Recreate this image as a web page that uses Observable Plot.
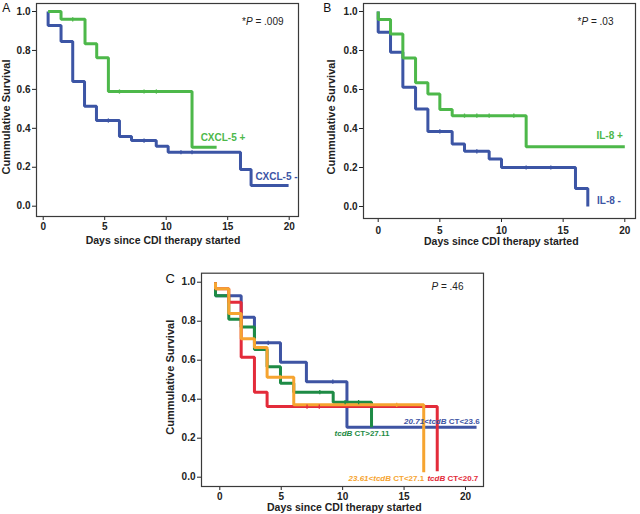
<!DOCTYPE html>
<html>
<head>
<meta charset="utf-8">
<script src="https://cdn.jsdelivr.net/npm/d3@7"></script>
<script src="https://cdn.jsdelivr.net/npm/@observablehq/plot@0.6"></script>
<style>
  html, body { margin: 0; padding: 0; background: #fff; }
  #wrap { position: relative; width: 640px; height: 514px; background: #fff; overflow: hidden; }
  #wrap > div { position: absolute; }
</style>
</head>
<body>
<div id="wrap">
  <div id="pa" style="left:0px;top:0px;"></div>
  <div id="pb" style="left:320px;top:0px;"></div>
  <div id="pc" style="left:150px;top:250px;"></div>
</div>
<script>
// ---------------- DATA ----------------
// Panel A: CXCL-5
const aPosDays = [0.4, 1.45, 3.4, 4.35, 5.3, 12.1, 14.1];
const aPosSurv = [1.0, 0.96, 0.835, 0.762, 0.589, 0.303, 0.303];
const aNegDays = [0.4, 0.4, 1.45, 2.4, 3.36, 4.33, 6.2, 7.18, 9.19, 10.16, 16.04, 16.9, 19.95];
const aNegSurv = [1.0, 0.928, 0.846, 0.64, 0.514, 0.44, 0.358, 0.337, 0.308, 0.277, 0.188, 0.106, 0.106];
const aPosCensDays = [2.4, 6.2, 8.2, 9.2];
const aPosCensSurv = [0.96, 0.589, 0.589, 0.589];
const aNegCensDays = [5.3, 8.2, 11.2, 12.1];
const aNegCensSurv = [0.44, 0.337, 0.277, 0.277];
const aLabels = ["CXCL-5 +", "CXCL-5 -"];
const aLabelDays = [12.8, 17.25];
const aLabelSurv = [0.353, 0.149];
const aPText = "*P = .009";

// Panel B: IL-8
const bPosDays = [0, 0, 1.0, 2.0, 3.03, 4.03, 5.0, 6.0, 12.0, 20.0];
const bPosSurv = [1.0, 0.959, 0.885, 0.762, 0.634, 0.577, 0.497, 0.466, 0.307, 0.307];
const bNegDays = [0, 0, 1.0, 2.0, 3.03, 4.03, 6.0, 7.0, 9.0, 10.0, 16.0, 17.0];
const bNegSurv = [1.0, 0.894, 0.791, 0.611, 0.5, 0.385, 0.32, 0.283, 0.243, 0.2, 0.092, 0.0];
const bPosCensDays = [7, 8, 9, 11];
const bPosCensSurv = [0.466, 0.466, 0.466, 0.466];
const bNegCensDays = [5, 8, 12, 14];
const bNegCensSurv = [0.385, 0.283, 0.2, 0.2];
const bLabels = ["IL-8 +", "IL-8 -"];
const bLabelDays = [17.7, 17.75];
const bLabelSurv = [0.364, 0.027];
const bPText = "*P = .03";

// Panel C: tcdB CT groups
const cBlueDays = [-0.35, -0.35, 1.74, 2.82, 4.94, 7.05, 10.35, 20.9];
const cBlueSurv = [1.0, 0.93, 0.82, 0.689, 0.59, 0.49, 0.256, 0.256];
const cGreenDays = [-0.35, -0.35, 0.73, 1.74, 2.82, 3.85, 4.94, 6.02, 9.23, 12.35];
const cGreenSurv = [1.0, 0.93, 0.81, 0.77, 0.655, 0.567, 0.482, 0.436, 0.385, 0.256];
const cRedDays = [-0.35, -0.35, 0.73, 1.74, 2.82, 3.85, 17.7];
const cRedSurv = [1.0, 0.966, 0.897, 0.615, 0.436, 0.362, 0.03];
const cOrangeDays = [-0.35, -0.35, 0.73, 1.74, 2.82, 3.85, 6.02, 16.6];
const cOrangeSurv = [1.0, 0.966, 0.84, 0.71, 0.665, 0.513, 0.371, 0.025];
const cBlueCensDays = [3.94, 9.2];
const cBlueCensSurv = [0.689, 0.49];
const cGreenCensDays = [8.14, 10.2, 11.3];
const cGreenCensSurv = [0.436, 0.385, 0.385];
const cRedCensDays = [7.1, 8.1];
const cRedCensSurv = [0.362, 0.362];
const cOrangeCensDays = [4.9, 14.4];
const cOrangeCensSurv = [0.513, 0.371];
const cLabels = ["20.71<tcdB CT<23.6", "tcdB CT>27.11", "23.61<tcdB CT<27.1", "tcdB CT<20.7"];
const cLabelDays = [15.0, 9.34, 10.48, 16.9];
const cLabelSurv = [0.287, 0.224, -0.007, -0.007];
const cPText = "P = .46";

const xTicks = [0, 5, 10, 15, 20];
const yTicks = [0, 0.2, 0.4, 0.6, 0.8, 1.0];
const yTitle = "Cummulative Survival";
const xTitle = "Days since CDI therapy started";

// ---------------- STYLE ----------------
const FONT = "'Liberation Sans', Arial, Helvetica, sans-serif";
const GREEN = "#4db84a", BLUE = "#3c55a5";
const C_BLUE = "#3e54a3", C_GREEN = "#1e8b45", C_RED = "#e32b3a", C_ORANGE = "#f6a430";

const zip = (d, s) => d.map((x, i) => ({d: x, s: s[i]}));
const censorSymbol = {
  draw(ctx, size) { const r = Math.sqrt(size / Math.PI); ctx.moveTo(0, -r); ctx.lineTo(0, r); }
};

function richify(svg) {
  svg.querySelectorAll("text").forEach(t => {
    const s = t.textContent;
    if (!/tcdB|P =/.test(s)) return;
    const parts = s.split(/(\d+\.\d+<tcdB|tcdB|P(?= =))/).filter(p => p);
    while (t.firstChild) t.removeChild(t.firstChild);
    for (const p of parts) {
      const ts = document.createElementNS("http://www.w3.org/2000/svg", "tspan");
      ts.textContent = p;
      if (/tcdB/.test(p) || p === "P") ts.setAttribute("font-style", "italic");
      t.appendChild(ts);
    }
  });
}

function panel(cfg) {
  const marks = [];
  for (const c of cfg.curves) {
    marks.push(Plot.line(zip(c.days, c.surv), {
      x: "d", y: "s", curve: "step-after", stroke: c.color, strokeWidth: 3,
      strokeLinejoin: "miter", strokeLinecap: "butt"
    }));
  }
  for (const c of cfg.curves) {
    if (!c.censDays) continue;
    marks.push(Plot.dot(zip(c.censDays, c.censSurv), {
      x: "d", y: "s", symbol: censorSymbol, r: 2.1, stroke: c.color, strokeWidth: 1.3, fill: "none"
    }));
  }
  marks.push(Plot.frame({stroke: "#3a3a3a", strokeWidth: 1.2}));
  marks.push(Plot.text(cfg.labels.map((t, i) => ({t, d: cfg.labelDays[i], s: cfg.labelSurv[i], c: cfg.labelColors[i]})), {
    x: "d", y: "s", text: "t", fill: "c", textAnchor: "start", fontSize: cfg.labelSize, fontWeight: "bold"
  }));
  marks.push(Plot.text([cfg.pText], {
    frameAnchor: "top-right", textAnchor: "end", lineAnchor: "middle", dx: cfg.pDx, dy: cfg.pDy,
    fontSize: 10, fontWeight: "normal", fill: "#222"
  }));
  marks.push(Plot.text([cfg.letter], {
    frameAnchor: "top-left", textAnchor: "start", lineAnchor: "middle", dx: cfg.letterDx, dy: cfg.letterDy,
    fontSize: cfg.letterSize, fontWeight: "normal", fill: "#111"
  }));
  marks.push(Plot.text([yTitle], {
    frameAnchor: "left", rotate: -90, textAnchor: "middle", lineAnchor: "middle",
    dx: cfg.yTitleDx, dy: cfg.yTitleDy, fontSize: 11, fontWeight: "bold", fill: "#222"
  }));
  marks.push(Plot.text([xTitle], {
    frameAnchor: "bottom", textAnchor: "middle", lineAnchor: "middle",
    dx: cfg.xTitleDx, dy: cfg.xTitleDy, fontSize: 10.5, fontWeight: "bold", fill: "#222"
  }));
  const svg = Plot.plot({
    width: cfg.width, height: cfg.height,
    marginLeft: cfg.ml, marginRight: cfg.mr, marginTop: cfg.mt, marginBottom: cfg.mb,
    style: {fontFamily: FONT, fontSize: "10px", fontWeight: "bold", color: "#222", background: "transparent", overflow: "visible"},
    x: {domain: cfg.xDomain, ticks: xTicks, tickFormat: d => String(d), tickSize: 4, tickPadding: cfg.xPad, label: null},
    y: {domain: cfg.yDomain, ticks: yTicks, tickFormat: d => d.toFixed(1), tickSize: 4, tickPadding: 2, label: null},
    marks
  });
  richify(svg);
  return svg;
}

// Panel A
document.getElementById("pa").appendChild(panel({
  width: 320, height: 250, ml: 36, mr: 22, mt: 3, mb: 34,
  xDomain: [-0.545, 20.756], yDomain: [-0.0529, 1.0411], xPad: 2,
  curves: [
    {days: aNegDays, surv: aNegSurv, color: BLUE, censDays: aNegCensDays, censSurv: aNegCensSurv},
    {days: aPosDays, surv: aPosSurv, color: GREEN, censDays: aPosCensDays, censSurv: aPosCensSurv}
  ],
  labels: aLabels, labelDays: aLabelDays, labelSurv: aLabelSurv, labelColors: [GREEN, BLUE], labelSize: 10,
  pText: aPText, pDx: -15, pDy: 18.7,
  letter: "A", letterDx: -34.3, letterDy: 4.5, letterSize: 12,
  yTitleDx: -30, yTitleDy: 7, xTitleDx: -4.5, xTitleDy: 24
}));

// Panel B
document.getElementById("pb").appendChild(panel({
  width: 320, height: 250, ml: 43, mr: 5, mt: 3, mb: 32,
  xDomain: [-1.192, 20.868], yDomain: [-0.0615, 1.041], xPad: 4,
  curves: [
    {days: bNegDays, surv: bNegSurv, color: BLUE, censDays: bNegCensDays, censSurv: bNegCensSurv},
    {days: bPosDays, surv: bPosSurv, color: GREEN, censDays: bPosCensDays, censSurv: bPosCensSurv}
  ],
  labels: bLabels, labelDays: bLabelDays, labelSurv: bLabelSurv, labelColors: [GREEN, BLUE], labelSize: 10,
  pText: bPText, pDx: -22, pDy: 18.7,
  letter: "B", letterDx: -40.3, letterDy: 4.2, letterSize: 12,
  yTitleDx: -32, yTitleDy: 6, xTitleDx: 1.8, xTitleDy: 22.7
}));

// Panel C
document.getElementById("pc").appendChild(panel({
  width: 340, height: 264, ml: 51, mr: 7, mt: 22.7, mb: 28,
  xDomain: [-1.49, 21.466], yDomain: [-0.0477, 1.0462], xPad: 2,
  curves: [
    {days: cBlueDays, surv: cBlueSurv, color: C_BLUE, censDays: cBlueCensDays, censSurv: cBlueCensSurv},
    {days: cGreenDays, surv: cGreenSurv, color: C_GREEN, censDays: cGreenCensDays, censSurv: cGreenCensSurv},
    {days: cRedDays, surv: cRedSurv, color: C_RED, censDays: cRedCensDays, censSurv: cRedCensSurv},
    {days: cOrangeDays, surv: cOrangeSurv, color: C_ORANGE, censDays: cOrangeCensDays, censSurv: cOrangeCensSurv}
  ],
  labels: cLabels, labelDays: cLabelDays, labelSurv: cLabelSurv, labelColors: [C_BLUE, C_GREEN, C_ORANGE, C_RED], labelSize: 8,
  pText: cPText, pDx: -20, pDy: 14,
  letter: "C", letterDx: -36, letterDy: 5.6, letterSize: 13,
  yTitleDx: -30.7, yTitleDy: -2.6, xTitleDx: 1.8, xTitleDy: 21
}));
</script>
</body>
</html>
